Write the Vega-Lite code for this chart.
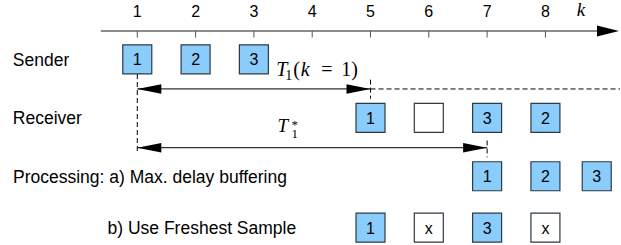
{
  "$schema": "https://vega.github.io/schema/vega-lite/v6.json",
  "width": 621,
  "height": 245,
  "padding": 0,
  "autosize": {"type": "fit", "contains": "padding"},
  "config": {"view": {"stroke": null}},
  "datasets": {
    "axisline": [{"k1": 0.375, "k2": 8.92, "lane": 1.023}],
    "axishead": [{"k": 9.262, "lane": 1.023}],
    "ticks": [
      {"k": 1, "l1": 1.023, "l2": 1.252}, {"k": 2, "l1": 1.023, "l2": 1.252},
      {"k": 3, "l1": 1.023, "l2": 1.252}, {"k": 4, "l1": 1.023, "l2": 1.252},
      {"k": 5, "l1": 1.023, "l2": 1.252}, {"k": 6, "l1": 1.023, "l2": 1.252},
      {"k": 7, "l1": 1.023, "l2": 1.252}, {"k": 8, "l1": 1.023, "l2": 1.252}
    ],
    "ticklabels": [
      {"k": 1, "lane": 0.375, "t": "1"}, {"k": 2, "lane": 0.375, "t": "2"},
      {"k": 3, "lane": 0.375, "t": "3"}, {"k": 4, "lane": 0.375, "t": "4"},
      {"k": 5, "lane": 0.375, "t": "5"}, {"k": 6, "lane": 0.375, "t": "6"},
      {"k": 7, "lane": 0.375, "t": "7"}, {"k": 8, "lane": 0.375, "t": "8"}
    ],
    "klabel": [{"k": 8.61, "lane": 0.511, "t": "k"}],
    "rowlabels": [
      {"k": -1.135, "lane": 2, "t": "Sender"},
      {"k": -1.135, "lane": 4, "t": "Receiver"},
      {"k": -1.132, "lane": 6, "t": "Processing: a) Max. delay buffering"},
      {"k": 0.4897, "lane": 7.757, "t": "b) Use Freshest Sample"}
    ],
    "boxes": [
      {"k": 1, "lane": 2, "t": "1", "state": "sample"},
      {"k": 2, "lane": 2, "t": "2", "state": "sample"},
      {"k": 3, "lane": 2, "t": "3", "state": "sample"},
      {"k": 5, "lane": 4, "t": "1", "state": "sample"},
      {"k": 6, "lane": 4, "t": "", "state": "empty"},
      {"k": 7, "lane": 4, "t": "3", "state": "sample"},
      {"k": 8, "lane": 4, "t": "2", "state": "sample"},
      {"k": 7, "lane": 6, "t": "1", "state": "sample"},
      {"k": 8, "lane": 6, "t": "2", "state": "sample"},
      {"k": 8.88, "lane": 6, "t": "3", "state": "sample"},
      {"k": 5, "lane": 7.757, "t": "1", "state": "sample"},
      {"k": 6, "lane": 7.757, "t": "x", "state": "empty"},
      {"k": 7, "lane": 7.757, "t": "3", "state": "sample"},
      {"k": 8, "lane": 7.757, "t": "x", "state": "empty"}
    ],
    "vdash": [
      {"k": 1, "l1": 2.5, "l2": 5.216},
      {"k": 5, "l1": 2.693, "l2": 3.341},
      {"k": 7, "l1": 4.773, "l2": 5.353}
    ],
    "hdash": [{"k1": 5, "k2": 9.279, "lane": 3.011}],
    "arrows": [
      {"k1": 1, "k2": 5, "lane": 3.011},
      {"k1": 1, "k2": 7, "lane": 5.022}
    ],
    "heads": [
      {"k": 1, "lane": 3.011, "dir": "left"},
      {"k": 5, "lane": 3.011, "dir": "right"},
      {"k": 1, "lane": 5.022, "dir": "left"},
      {"k": 7, "lane": 5.022, "dir": "right"}
    ],
    "t1": [{"k": 3.3836, "lane": 2.557}],
    "t1star": [{"k": 3.406, "lane": 4.5}]
  },
  "encoding": {},
  "layer": [
    {
      "data": {"name": "axisline"},
      "mark": {"type": "rule", "color": "#666666", "strokeWidth": 1.5},
      "encoding": {
        "x": {"field": "k1", "type": "quantitative", "scale": {"domain": [-1.3545, 9.279], "nice": false, "zero": false}, "axis": null},
        "x2": {"field": "k2"},
        "y": {"field": "lane", "type": "quantitative", "scale": {"domain": [0, 8.353], "nice": false, "zero": false, "reverse": true}, "axis": null}
      }
    },
    {
      "data": {"name": "axishead"},
      "mark": {"type": "point", "filled": true, "color": "#000000", "opacity": 1, "size": 484, "shape": "M0,0 L-2,-0.5 L-2,0.5 Z"},
      "encoding": {
        "x": {"field": "k", "type": "quantitative", "axis": null},
        "y": {"field": "lane", "type": "quantitative", "axis": null}
      }
    },
    {
      "data": {"name": "ticks"},
      "mark": {"type": "rule", "color": "#555555", "strokeWidth": 1},
      "encoding": {
        "x": {"field": "k", "type": "quantitative", "axis": null},
        "y": {"field": "l1", "type": "quantitative", "axis": null},
        "y2": {"field": "l2"}
      }
    },
    {
      "data": {"name": "ticklabels"},
      "mark": {"type": "text", "font": "Liberation Sans", "fontSize": 16, "color": "#000000", "baseline": "middle", "align": "center"},
      "encoding": {
        "x": {"field": "k", "type": "quantitative", "axis": null},
        "y": {"field": "lane", "type": "quantitative", "axis": null},
        "text": {"field": "t"}
      }
    },
    {
      "data": {"name": "klabel"},
      "mark": {"type": "text", "font": "Liberation Serif", "fontStyle": "italic", "fontSize": 19, "color": "#000000", "baseline": "alphabetic", "align": "center"},
      "encoding": {
        "x": {"field": "k", "type": "quantitative", "axis": null},
        "y": {"field": "lane", "type": "quantitative", "axis": null},
        "text": {"field": "t"}
      }
    },
    {
      "data": {"name": "rowlabels"},
      "mark": {"type": "text", "font": "Liberation Sans", "fontSize": 17.5, "color": "#000000", "baseline": "middle", "align": "left", "dy": 1.5},
      "encoding": {
        "x": {"field": "k", "type": "quantitative", "axis": null},
        "y": {"field": "lane", "type": "quantitative", "axis": null},
        "text": {"field": "t"}
      }
    },
    {
      "data": {"name": "vdash"},
      "mark": {"type": "rule", "color": "#000000", "strokeWidth": 1, "strokeDash": [5, 3]},
      "encoding": {
        "x": {"field": "k", "type": "quantitative", "axis": null},
        "y": {"field": "l1", "type": "quantitative", "axis": null},
        "y2": {"field": "l2"}
      }
    },
    {
      "data": {"name": "hdash"},
      "mark": {"type": "rule", "color": "#000000", "strokeWidth": 1, "strokeDash": [5, 3]},
      "encoding": {
        "x": {"field": "k1", "type": "quantitative", "axis": null},
        "x2": {"field": "k2"},
        "y": {"field": "lane", "type": "quantitative", "axis": null}
      }
    },
    {
      "data": {"name": "arrows"},
      "mark": {"type": "rule", "color": "#333333", "strokeWidth": 1.3},
      "encoding": {
        "x": {"field": "k1", "type": "quantitative", "axis": null},
        "x2": {"field": "k2"},
        "y": {"field": "lane", "type": "quantitative", "axis": null}
      }
    },
    {
      "data": {"name": "heads"},
      "mark": {"type": "point", "filled": true, "color": "#000000", "opacity": 1, "size": 576},
      "encoding": {
        "x": {"field": "k", "type": "quantitative", "axis": null},
        "y": {"field": "lane", "type": "quantitative", "axis": null},
        "shape": {"field": "dir", "type": "nominal", "legend": null, "scale": {"domain": ["left", "right"], "range": ["M0,0 L2,-0.4 L2,0.4 Z", "M0,0 L-2,-0.4 L-2,0.4 Z"]}}
      }
    },
    {
      "data": {"name": "boxes"},
      "mark": {"type": "point", "shape": "square", "filled": true, "opacity": 1, "size": 841, "stroke": "#2e3a44", "strokeWidth": 1.2},
      "encoding": {
        "x": {"field": "k", "type": "quantitative", "axis": null},
        "y": {"field": "lane", "type": "quantitative", "axis": null},
        "fill": {"field": "state", "type": "nominal", "legend": null, "scale": {"domain": ["sample", "empty"], "range": ["#8accfb", "#ffffff"]}}
      }
    },
    {
      "data": {"name": "boxes"},
      "mark": {"type": "text", "font": "Liberation Sans", "fontSize": 16, "color": "#000000", "baseline": "middle", "align": "center", "dy": 1},
      "encoding": {
        "x": {"field": "k", "type": "quantitative", "axis": null},
        "y": {"field": "lane", "type": "quantitative", "axis": null},
        "text": {"field": "t"}
      }
    },
    {
      "data": {"name": "t1"},
      "mark": {"type": "text", "font": "Liberation Serif", "fontStyle": "italic", "fontSize": 20, "color": "#000000", "baseline": "alphabetic", "align": "left", "text": "T"},
      "encoding": {
        "x": {"field": "k", "type": "quantitative", "axis": null},
        "y": {"field": "lane", "type": "quantitative", "axis": null}
      }
    },
    {
      "data": {"name": "t1"},
      "mark": {"type": "text", "font": "Liberation Serif", "fontSize": 14, "color": "#000000", "baseline": "alphabetic", "align": "left", "text": "1", "dx": 9, "dy": 4},
      "encoding": {
        "x": {"field": "k", "type": "quantitative", "axis": null},
        "y": {"field": "lane", "type": "quantitative", "axis": null}
      }
    },
    {
      "data": {"name": "t1"},
      "mark": {"type": "text", "font": "Liberation Serif", "fontSize": 20, "color": "#000000", "baseline": "alphabetic", "align": "left", "text": "(", "dx": 17},
      "encoding": {
        "x": {"field": "k", "type": "quantitative", "axis": null},
        "y": {"field": "lane", "type": "quantitative", "axis": null}
      }
    },
    {
      "data": {"name": "t1"},
      "mark": {"type": "text", "font": "Liberation Serif", "fontStyle": "italic", "fontSize": 20, "color": "#000000", "baseline": "alphabetic", "align": "left", "text": "k", "dx": 24.5},
      "encoding": {
        "x": {"field": "k", "type": "quantitative", "axis": null},
        "y": {"field": "lane", "type": "quantitative", "axis": null}
      }
    },
    {
      "data": {"name": "t1"},
      "mark": {"type": "text", "font": "Liberation Serif", "fontSize": 20, "color": "#000000", "baseline": "alphabetic", "align": "left", "text": "=", "dx": 45},
      "encoding": {
        "x": {"field": "k", "type": "quantitative", "axis": null},
        "y": {"field": "lane", "type": "quantitative", "axis": null}
      }
    },
    {
      "data": {"name": "t1"},
      "mark": {"type": "text", "font": "Liberation Serif", "fontSize": 20, "color": "#000000", "baseline": "alphabetic", "align": "left", "text": "1)", "dx": 65},
      "encoding": {
        "x": {"field": "k", "type": "quantitative", "axis": null},
        "y": {"field": "lane", "type": "quantitative", "axis": null}
      }
    },
    {
      "data": {"name": "t1star"},
      "mark": {"type": "text", "font": "Liberation Serif", "fontStyle": "italic", "fontSize": 19, "color": "#000000", "baseline": "alphabetic", "align": "left", "text": "T"},
      "encoding": {
        "x": {"field": "k", "type": "quantitative", "axis": null},
        "y": {"field": "lane", "type": "quantitative", "axis": null}
      }
    },
    {
      "data": {"name": "t1star"},
      "mark": {"type": "text", "font": "Liberation Serif", "fontSize": 13, "color": "#000000", "baseline": "alphabetic", "align": "left", "text": "1", "dx": 14, "dy": 6},
      "encoding": {
        "x": {"field": "k", "type": "quantitative", "axis": null},
        "y": {"field": "lane", "type": "quantitative", "axis": null}
      }
    },
    {
      "data": {"name": "t1star"},
      "mark": {"type": "text", "font": "Liberation Serif", "fontSize": 13, "color": "#000000", "baseline": "alphabetic", "align": "left", "text": "*", "dx": 14, "dy": -3},
      "encoding": {
        "x": {"field": "k", "type": "quantitative", "axis": null},
        "y": {"field": "lane", "type": "quantitative", "axis": null}
      }
    }
  ]
}
